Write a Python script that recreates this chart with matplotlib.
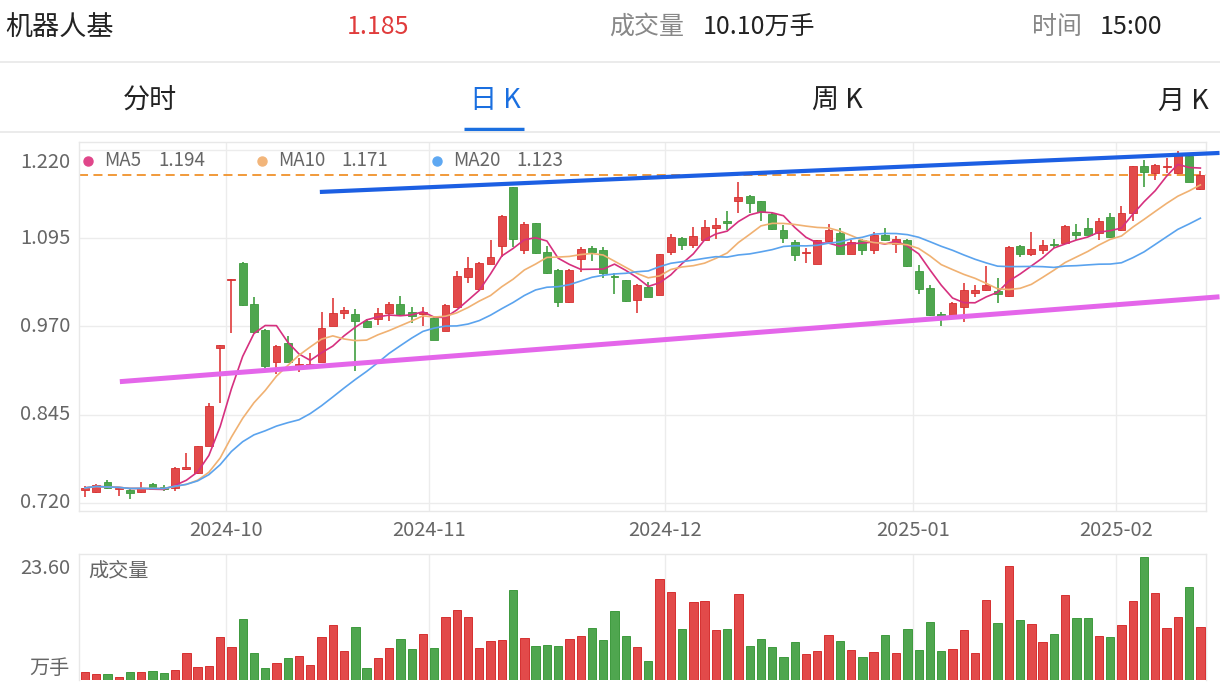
import numpy as np
import pandas as pd
import matplotlib
matplotlib.use("Agg")
import matplotlib.pyplot as plt

plt.rcParams['font.family'] = ['Noto Sans CJK SC', 'DejaVu Sans']

# ---------------- data ----------------
title = "机器人基"
last_price = "1.185"
volume_title = "成交量"
volume_text = "10.10万手"
time_title = "时间"
time_text = "15:00"
tabs = ["分时", "日 K", "周 K", "月 K"]

open_ = [0.738, 0.735, 0.750, 0.739, 0.738, 0.735, 0.747, 0.742, 0.741, 0.768,
         0.762, 0.801, 0.940, 1.035, 1.060, 1.001, 0.965, 0.920, 0.946, 0.913,
         0.914, 0.920, 0.971, 0.989, 0.988, 0.977, 0.980, 0.989, 1.002, 0.990,
         0.987, 0.982, 0.964, 0.998, 1.040, 1.023, 1.059, 1.084, 1.168, 1.078,
         1.116, 1.075, 1.050, 1.004, 1.065, 1.081, 1.078, 1.041, 1.035, 1.007,
         1.026, 1.015, 1.075, 1.095, 1.086, 1.093, 1.109, 1.120, 1.148, 1.155,
         1.147, 1.129, 1.106, 1.089, 1.074, 1.059, 1.091, 1.103, 1.073, 1.093,
         1.078, 1.100, 1.087, 1.093, 1.049, 1.025, 0.987, 0.984, 0.998, 1.017,
         1.021, 1.020, 1.013, 1.084, 1.073, 1.078, 1.087, 1.088, 1.104, 1.109,
         1.103, 1.125, 1.106, 1.130, 1.197, 1.188, 1.196, 1.187, 1.211, 1.164]
high = [0.743, 0.746, 0.752, 0.741, 0.739, 0.749, 0.748, 0.745, 0.770, 0.791,
        0.801, 0.861, 0.943, 1.037, 1.061, 1.012, 0.966, 0.943, 0.956, 0.925,
        0.932, 0.990, 1.010, 0.997, 0.994, 0.980, 0.996, 1.004, 1.013, 0.998,
        0.998, 0.983, 1.001, 1.049, 1.068, 1.061, 1.093, 1.128, 1.168, 1.118,
        1.117, 1.084, 1.051, 1.051, 1.083, 1.084, 1.082, 1.046, 1.036, 1.030,
        1.033, 1.073, 1.101, 1.097, 1.111, 1.121, 1.123, 1.133, 1.174, 1.156,
        1.148, 1.130, 1.114, 1.093, 1.081, 1.093, 1.115, 1.109, 1.092, 1.094,
        1.104, 1.109, 1.098, 1.094, 1.057, 1.029, 0.991, 1.004, 1.031, 1.029,
        1.055, 1.038, 1.084, 1.085, 1.104, 1.093, 1.094, 1.113, 1.115, 1.123,
        1.123, 1.130, 1.140, 1.198, 1.206, 1.200, 1.208, 1.218, 1.213, 1.190]
low = [0.728, 0.734, 0.740, 0.730, 0.725, 0.734, 0.738, 0.736, 0.736, 0.767,
       0.761, 0.800, 0.861, 0.960, 0.999, 0.960, 0.910, 0.902, 0.919, 0.905,
       0.912, 0.919, 0.970, 0.980, 0.906, 0.967, 0.972, 0.977, 0.986, 0.975,
       0.970, 0.950, 0.963, 0.997, 1.031, 1.022, 1.058, 1.069, 1.083, 1.072,
       1.073, 1.044, 0.998, 1.003, 1.047, 1.063, 1.039, 1.016, 1.005, 0.989,
       1.011, 1.014, 1.071, 1.078, 1.081, 1.092, 1.094, 1.107, 1.131, 1.130,
       1.119, 1.107, 1.088, 1.062, 1.060, 1.058, 1.090, 1.072, 1.072, 1.071,
       1.073, 1.091, 1.074, 1.054, 1.016, 0.985, 0.970, 0.983, 0.976, 1.012,
       1.020, 1.003, 1.011, 1.068, 1.070, 1.072, 1.081, 1.087, 1.093, 1.099,
       1.093, 1.095, 1.105, 1.119, 1.168, 1.178, 1.187, 1.186, 1.174, 1.163]
close = [0.741, 0.745, 0.741, 0.740, 0.734, 0.741, 0.740, 0.739, 0.769, 0.770,
         0.800, 0.857, 0.943, 1.037, 1.000, 0.962, 0.914, 0.942, 0.920, 0.916,
         0.917, 0.968, 0.989, 0.993, 0.977, 0.969, 0.989, 1.002, 0.988, 0.984,
         0.990, 0.951, 1.000, 1.041, 1.053, 1.060, 1.068, 1.127, 1.094, 1.115,
         1.074, 1.045, 1.005, 1.050, 1.080, 1.075, 1.046, 1.040, 1.006, 1.029,
         1.012, 1.072, 1.096, 1.086, 1.098, 1.111, 1.114, 1.116, 1.154, 1.145,
         1.132, 1.108, 1.095, 1.071, 1.075, 1.092, 1.107, 1.073, 1.090, 1.078,
         1.100, 1.092, 1.094, 1.055, 1.023, 0.986, 0.984, 1.003, 1.022, 1.022,
         1.028, 1.016, 1.083, 1.072, 1.079, 1.085, 1.086, 1.112, 1.100, 1.100,
         1.120, 1.096, 1.131, 1.197, 1.189, 1.199, 1.198, 1.215, 1.175, 1.185]
volume = [1.47, 1.09, 1.15, 0.51, 1.54, 1.60, 1.73, 1.28, 1.99, 5.26,
          2.50, 2.76, 8.27, 6.28, 11.73, 5.26, 2.31, 3.27, 4.23, 4.62,
          2.95, 8.33, 10.58, 5.64, 10.26, 2.24, 4.17, 6.22, 7.82, 5.96,
          8.91, 6.22, 12.11, 13.46, 12.05, 6.09, 7.50, 7.69, 17.24, 8.08,
          6.54, 6.73, 6.54, 7.88, 8.46, 10.06, 7.63, 13.33, 8.46, 6.41,
          3.70, 19.42, 16.86, 9.87, 15.00, 15.19, 9.62, 9.81, 16.47, 6.60,
          7.82, 6.41, 4.49, 7.37, 5.00, 5.64, 8.59, 7.44, 5.77, 4.49,
          5.32, 8.59, 5.19, 9.81, 5.70, 11.22, 5.58, 5.90, 9.62, 5.26,
          15.38, 11.03, 21.92, 11.54, 10.77, 7.24, 8.85, 16.35, 11.99, 11.99,
          8.46, 8.20, 10.51, 15.19, 23.60, 16.79, 10.00, 12.18, 17.82, 10.10]

month_labels = ["2024-10", "2024-11", "2024-12", "2025-01", "2025-02"]
month_first_idx = [13, 31, 52, 74, 92]
price_ticks = [0.720, 0.845, 0.970, 1.095, 1.220]
vol_max_label = "23.60"
vol_unit = "万手"
ref_price = 1.185
ma_periods = [5, 10, 20]
upper_trend_x = [20.85, 100.7]
upper_trend_y = [1.1605, 1.2158]
lower_trend_x = [3.1, 100.7]
lower_trend_y = [0.8916, 1.0119]

# ---------------- styling ----------------
W, H = 1220, 692
RED = '#e24a4a'
RED_EDGE = '#d63030'
GREEN = '#4fa64f'
GREEN_EDGE = '#3d9a3d'
GRID = '#ececec'
LABEL = '#666666'
MA_COLORS = ['#d6307f', '#f0b172', '#5aa3ee']
DOT_COLORS = ['#e0468a', '#f2b57a', '#5ea8f2']

fig = plt.figure(figsize=(W / 100, H / 100), dpi=100)
fig.patch.set_facecolor('white')


def fx(x):
    return x / W


def fy(y):
    return 1 - y / H


def ftext(x, y, s, **kw):
    fig.text(fx(x), fy(y), s, **kw)


# ---------------- header ----------------
ftext(5, 27, title, fontsize=19.5, color='#222222', ha='left', va='center')
ftext(378, 27, last_price, fontsize=18, color='#e03c3c', ha='center', va='center')
ftext(647, 27, volume_title, fontsize=18, color='#888888', ha='center', va='center')
ftext(703, 27, volume_text, fontsize=18, color='#222222', ha='left', va='center')
ftext(1057, 27, time_title, fontsize=18, color='#888888', ha='center', va='center')
ftext(1100, 27, time_text, fontsize=18, color='#222222', ha='left', va='center')
fig.add_artist(plt.Line2D([0, 1], [fy(62), fy(62)], color='#e8e8e8', lw=1.2))

tab_x = [150, 495, 837, 1183]
for i, (t, xx) in enumerate(zip(tabs, tab_x)):
    ftext(xx, 101, t, fontsize=19.5, color='#1a6fe0' if i == 1 else '#222222',
          ha='center', va='center')
fig.add_artist(plt.Line2D([fx(464), fx(524)], [fy(128.5), fy(128.5)],
                          color='#1a6fe0', lw=2.5, solid_capstyle='butt'))
fig.add_artist(plt.Line2D([0, 1], [fy(131.5), fy(131.5)], color='#e8e8e8', lw=1.2))

# ---------------- price panel ----------------
L, R = 79.3, 1206
ax = fig.add_axes([fx(L), fy(510.7), fx(R) - fx(L), fy(141.7) - fy(510.7)])
n = len(close)
x = np.arange(n)
o = np.array(open_)
c = np.array(close)
hi = np.array(high)
lo = np.array(low)
up = c >= o
cols = np.where(up, RED, GREEN)
edges = np.where(up, RED_EDGE, GREEN_EDGE)

ax.set_xlim(-0.5, n - 0.5)
ax.set_ylim(0.70867, 1.23175)

ax.vlines(x, lo, hi, colors=cols, lw=1.3, zorder=3)
body_bottom = np.minimum(o, c)
body_h = np.maximum(np.abs(c - o), 0.0013)
ax.bar(x, body_h, bottom=body_bottom, width=0.7, color=cols, edgecolor=edges,
       lw=0.6, zorder=4)

cs = pd.Series(c)
ma_vals = []
for p, col in zip(ma_periods, MA_COLORS):
    m = cs.rolling(p, min_periods=1).mean()
    ma_vals.append(m.iloc[-1])
    ax.plot(x, m.values, color=col, lw=1.2, zorder=5)

ax.axhline(ref_price, color='#f0922b', lw=1.3, dashes=(5, 3), zorder=2)
ax.plot(upper_trend_x, upper_trend_y, color='#1c5fe3', lw=3.0, clip_on=False,
        zorder=6, solid_capstyle='butt')
ax.plot(lower_trend_x, lower_trend_y, color='#e466ea', lw=3.6, clip_on=False,
        zorder=6, solid_capstyle='butt')

ax.set_yticks(price_ticks)
ax.set_yticklabels([])
ax.set_xticks([m - 0.5 for m in month_first_idx])
ax.set_xticklabels(month_labels, fontsize=14.5, color=LABEL)
ax.tick_params(axis='both', length=0)
ax.tick_params(axis='x', pad=7)
ax.grid(True, color=GRID, lw=1.0)
ax.set_axisbelow(True)
for s in ax.spines.values():
    s.set_color('#e8e8e8')
    s.set_linewidth(1.0)

for i, t in enumerate(price_ticks):
    off = -13 if i == len(price_ticks) - 1 else 0
    ax.annotate(f"{t:.3f}", xy=(0, t), xycoords=('axes fraction', 'data'),
                xytext=(-9, off), textcoords='offset pixels',
                ha='right', va='center', fontsize=14.5, color=LABEL)

# legend
leg_dot_x = [88, 262, 437]
leg_name_x = [104, 278, 453]
leg_val_x = [158, 341, 516]
for p, dc, dx, nx, vx, v in zip(ma_periods, DOT_COLORS, leg_dot_x, leg_name_x,
                                leg_val_x, ma_vals):
    fig.add_artist(plt.Line2D([fx(dx)], [fy(161)], marker='o', ms=6.5,
                              color=dc, lw=0))
    ftext(nx, 161, f"MA{p}", fontsize=13.5, color=LABEL, ha='left', va='center')
    ftext(vx, 161, f"{v:.3f}", fontsize=13.5, color=LABEL, ha='left', va='center')

# ---------------- volume panel ----------------
axv = fig.add_axes([fx(L), fy(680), fx(R) - fx(L), fy(554.3) - fy(680)])
axv.set_xlim(-0.5, n - 0.5)
axv.set_ylim(0, 24.18)
axv.bar(x, volume, width=0.74, color=cols, edgecolor=edges, lw=0.7, zorder=3)
axv.set_xticks([m - 0.5 for m in month_first_idx])
axv.set_xticklabels([])
axv.set_yticks([])
axv.tick_params(length=0)
axv.grid(True, axis='x', color=GRID, lw=1.0)
axv.set_axisbelow(True)
for k, s in axv.spines.items():
    s.set_color('#e8e8e8')
    s.set_linewidth(1.0)
axv.spines['bottom'].set_visible(False)

ftext(70, 569, vol_max_label, fontsize=14.5, color=LABEL, ha='right', va='center')
ftext(70, 668, vol_unit, fontsize=14.5, color=LABEL, ha='right', va='center')
ftext(88, 571, volume_title, fontsize=14.5, color=LABEL, ha='left', va='center')

fig.savefig('out.png', dpi=100, facecolor='white')
